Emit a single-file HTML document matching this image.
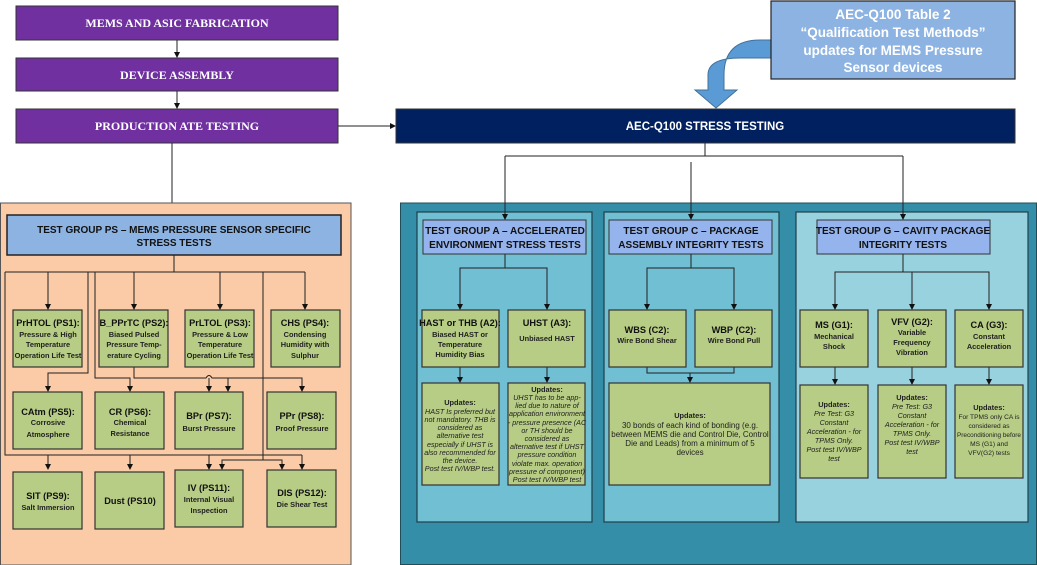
<!DOCTYPE html>
<html><head><meta charset="utf-8"><style>
html,body{margin:0;padding:0;background:#fff;}
svg{display:block;}
text{font-family:"Liberation Sans",sans-serif;}
.b{font-weight:bold;}
.s{font-family:"Liberation Serif",serif;font-weight:bold;fill:#fff;font-size:12px;}
.h{font-weight:bold;font-size:10px;fill:#111;}
.t{font-weight:bold;font-size:9.2px;fill:#111;}
.d{font-weight:bold;font-size:7.4px;fill:#222;}
.u{font-style:italic;font-size:7.2px;fill:#222;}
.box{fill:#b7cc84;stroke:#333;stroke-width:1.2;}
.ln{stroke:#222;stroke-width:1;fill:none;}
</style></head><body>
<svg width="1037" height="565" viewBox="0 0 1037 565" xmlns="http://www.w3.org/2000/svg">
<defs><marker id="a" markerWidth="6" markerHeight="6" refX="5" refY="3" orient="auto" markerUnits="userSpaceOnUse"><path d="M0,0 L6,3 L0,6z" fill="#111"/></marker></defs>

<rect x="16" y="6" width="322" height="34" fill="#7030a0" stroke="#333"/>
<text x="177" y="27" text-anchor="middle" class="s">MEMS AND ASIC FABRICATION</text>
<rect x="16" y="58" width="322" height="33" fill="#7030a0" stroke="#333"/>
<text x="177" y="79" text-anchor="middle" class="s">DEVICE ASSEMBLY</text>
<rect x="16" y="109" width="322" height="34" fill="#7030a0" stroke="#333"/>
<text x="177" y="130" text-anchor="middle" class="s">PRODUCTION ATE TESTING</text>
<line x1="177" y1="40" x2="177" y2="57" class="ln" marker-end="url(#a)"/>
<line x1="177" y1="91" x2="177" y2="108" class="ln" marker-end="url(#a)"/>
<line x1="338" y1="126" x2="395" y2="126" class="ln" marker-end="url(#a)"/>
<line x1="172" y1="143" x2="172" y2="215" class="ln"/>

<rect x="396" y="109" width="619" height="34" fill="#002060" stroke="#333"/>
<text x="705" y="130" text-anchor="middle" fill="#fff" class="b" font-size="11.5">AEC-Q100 STRESS TESTING</text>

<path d="M771,40 L760,40 Q724,40 724,75 L724,90 L737,90 L716,108 L695,90 L708,90 L708,75 Q708,58 740,58 L771,58 Z" fill="#5b9bd5" stroke="#41719c" stroke-width="1"/>
<rect x="771" y="1" width="244" height="78" fill="#8db3e2" stroke="#222" stroke-width="1.2"/>
<text text-anchor="middle" fill="#fff" class="b" font-size="13.5"><tspan x="893" y="19">AEC-Q100 Table 2</tspan><tspan x="893" y="37">“Qualification Test Methods”</tspan><tspan x="893" y="55">updates for MEMS Pressure</tspan><tspan x="893" y="72">Sensor devices</tspan></text>

<rect x="0.5" y="203" width="350.5" height="362" fill="#fbcba7" stroke="#555"/>
<rect x="7" y="215" width="334" height="40" fill="#8db3e2" stroke="#222" stroke-width="1.5"/>
<text text-anchor="middle" class="h" font-size="10.5"><tspan x="174" y="233">TEST GROUP PS – MEMS PRESSURE SENSOR SPECIFIC</tspan><tspan x="174" y="246">STRESS TESTS</tspan></text>

<g class="ln">
<path d="M174,255 V272 M5,272 H305 M5,272 V455 H302"/>
<line x1="48" y1="272" x2="48" y2="309" marker-end="url(#a)"/>
<line x1="134" y1="272" x2="134" y2="309" marker-end="url(#a)"/>
<line x1="220" y1="272" x2="220" y2="309" marker-end="url(#a)"/>
<line x1="305" y1="272" x2="305" y2="309" marker-end="url(#a)"/>
<path d="M88,272 V373 H48 V391" marker-end="url(#a)"/>
<path d="M95,272 V378 H130 V391" marker-end="url(#a)"/>
<path d="M134,367 V378 H206 Q209,373 212,378 H302 V391" marker-end="url(#a)"/>
<line x1="209" y1="378" x2="209" y2="391" marker-end="url(#a)"/>
<line x1="228" y1="378" x2="228" y2="391" marker-end="url(#a)"/>
<path d="M263,272 V460 H222 V469" marker-end="url(#a)"/>
<path d="M263,460 H282 V469" marker-end="url(#a)"/>
<line x1="48" y1="455" x2="48" y2="469" marker-end="url(#a)"/>
<line x1="130" y1="455" x2="130" y2="469" marker-end="url(#a)"/>
<line x1="209" y1="455" x2="209" y2="469" marker-end="url(#a)"/>
<line x1="302" y1="455" x2="302" y2="469" marker-end="url(#a)"/>
</g>

<rect class="box" x="13" y="310" width="69" height="57"/>
<text text-anchor="middle"><tspan x="48" y="326" class="t">PrHTOL (PS1):</tspan><tspan x="48" y="337" class="d">Pressure &amp; High</tspan><tspan x="48" y="347" class="d">Temperature</tspan><tspan x="48" y="358" class="d" font-size="6.8">Operation Life Test</tspan></text>
<rect class="box" x="99" y="310" width="69" height="57"/>
<text text-anchor="middle"><tspan x="134" y="326" class="t" font-size="8.6">B_PPrTC (PS2):</tspan><tspan x="134" y="337" class="d">Biased Pulsed</tspan><tspan x="134" y="347" class="d">Pressure Temp-</tspan><tspan x="134" y="358" class="d">erature Cycling</tspan></text>
<rect class="box" x="185" y="310" width="69" height="57"/>
<text text-anchor="middle"><tspan x="220" y="326" class="t">PrLTOL (PS3):</tspan><tspan x="220" y="337" class="d">Pressure &amp; Low</tspan><tspan x="220" y="347" class="d">Temperature</tspan><tspan x="220" y="358" class="d" font-size="6.8">Operation Life Test</tspan></text>
<rect class="box" x="271" y="310" width="69" height="57"/>
<text text-anchor="middle"><tspan x="305" y="326" class="t">CHS (PS4):</tspan><tspan x="305" y="337" class="d">Condensing</tspan><tspan x="305" y="347" class="d">Humidity with</tspan><tspan x="305" y="358" class="d">Sulphur</tspan></text>

<rect class="box" x="13" y="392" width="69" height="57"/>
<text text-anchor="middle"><tspan x="48" y="415" class="t">CAtm (PS5):</tspan><tspan x="48" y="425" class="d">Corrosive</tspan><tspan x="48" y="437" class="d">Atmosphere</tspan></text>
<rect class="box" x="95" y="392" width="69" height="57"/>
<text text-anchor="middle"><tspan x="130" y="415" class="t">CR (PS6):</tspan><tspan x="130" y="425" class="d">Chemical</tspan><tspan x="130" y="436" class="d">Resistance</tspan></text>
<rect class="box" x="175" y="392" width="68" height="57"/>
<text text-anchor="middle"><tspan x="209" y="419" class="t">BPr (PS7):</tspan><tspan x="209" y="431" class="d">Burst Pressure</tspan></text>
<rect class="box" x="267" y="392" width="69" height="57"/>
<text text-anchor="middle"><tspan x="302" y="419" class="t">PPr (PS8):</tspan><tspan x="302" y="431" class="d">Proof Pressure</tspan></text>

<rect class="box" x="13" y="472" width="69" height="57"/>
<text text-anchor="middle"><tspan x="48" y="499" class="t">SIT (PS9):</tspan><tspan x="48" y="510" class="d">Salt Immersion</tspan></text>
<rect class="box" x="95" y="472" width="69" height="57"/>
<text text-anchor="middle"><tspan x="130" y="504" class="t">Dust (PS10)</tspan></text>
<rect class="box" x="175" y="470" width="68" height="57"/>
<text text-anchor="middle"><tspan x="209" y="491" class="t">IV (PS11):</tspan><tspan x="209" y="502" class="d">Internal Visual</tspan><tspan x="209" y="513" class="d">Inspection</tspan></text>
<rect class="box" x="267" y="470" width="69" height="57"/>
<text text-anchor="middle"><tspan x="302" y="496" class="t">DIS (PS12):</tspan><tspan x="302" y="507" class="d">Die Shear Test</tspan></text>

<rect x="400.5" y="203" width="636" height="361.5" fill="#348ea8" stroke="#1f4d5a"/>
<g class="ln">
<path d="M705,143 V156 M505,156 H903"/>
<line x1="505" y1="156" x2="505" y2="219" marker-end="url(#a)"/>
<line x1="691" y1="162" x2="691" y2="219" marker-end="url(#a)"/>
<line x1="903" y1="156" x2="903" y2="219" marker-end="url(#a)"/>
</g>
<rect x="417" y="212" width="175" height="310" fill="#70bfd2" stroke="#1f3f4a" stroke-width="1.2"/>
<rect x="604" y="212" width="175" height="310" fill="#70bfd2" stroke="#1f3f4a" stroke-width="1.2"/>
<rect x="796" y="212" width="232" height="310" fill="#99d2df" stroke="#1f3f4a" stroke-width="1.2"/>
<line x1="691" y1="203" x2="691" y2="219" class="ln" marker-end="url(#a)"/>
<line x1="505" y1="203" x2="505" y2="219" class="ln" marker-end="url(#a)"/>
<line x1="903" y1="203" x2="903" y2="219" class="ln" marker-end="url(#a)"/>

<rect x="423" y="220" width="163" height="34" fill="#95b3ec" stroke="#333"/>
<text text-anchor="middle" class="h"><tspan x="505" y="234">TEST GROUP A – ACCELERATED</tspan><tspan x="505" y="248">ENVIRONMENT STRESS TESTS</tspan></text>
<g class="ln"><path d="M505,254 V268 H460 V309 M505,268 H547 V309"/>
<line x1="460" y1="300" x2="460" y2="309" marker-end="url(#a)"/><line x1="547" y1="300" x2="547" y2="309" marker-end="url(#a)"/>
<line x1="460" y1="367" x2="460" y2="382" marker-end="url(#a)"/><line x1="547" y1="367" x2="547" y2="382" marker-end="url(#a)"/></g>
<rect class="box" x="422" y="310" width="77" height="57"/>
<text text-anchor="middle"><tspan x="460" y="326" class="t" font-size="8.8">HAST or THB (A2):</tspan><tspan x="460" y="337" class="d">Biased HAST or</tspan><tspan x="460" y="347" class="d">Temperature</tspan><tspan x="460" y="357" class="d">Humidity Bias</tspan></text>
<rect class="box" x="508" y="310" width="77" height="57"/>
<text text-anchor="middle"><tspan x="547" y="326" class="t">UHST (A3):</tspan><tspan x="547" y="341" class="d">Unbiased HAST</tspan></text>
<rect class="box" x="422" y="383" width="77" height="102"/>
<text text-anchor="middle"><tspan x="460" y="405" class="d" font-size="9">Updates:</tspan><tspan x="460" y="414" class="u">HAST Is preferred but</tspan><tspan x="460" y="422" class="u">not mandatory. THB is</tspan><tspan x="460" y="430" class="u">considered as</tspan><tspan x="460" y="438" class="u">alternative test</tspan><tspan x="460" y="447" class="u">especially if UHST is</tspan><tspan x="460" y="455" class="u">also recommended for</tspan><tspan x="460" y="463" class="u">the device.</tspan><tspan x="460" y="471" class="u">Post test IV/WBP test.</tspan></text>
<rect class="box" x="508" y="383" width="77" height="102"/>
<text text-anchor="middle"><tspan x="547" y="392" class="d" font-size="9">Updates:</tspan><tspan x="547" y="400" class="u">UHST has to be app-</tspan><tspan x="547" y="408" class="u">lied due to nature of</tspan><tspan x="547" y="416" class="u" font-size="6.6">application environment</tspan><tspan x="547" y="425" class="u" font-size="6.6">- pressure presence (AC</tspan><tspan x="547" y="433" class="u">or TH should be</tspan><tspan x="547" y="441" class="u">considered as</tspan><tspan x="547" y="449" class="u" font-size="6.6">alternative test if UHST</tspan><tspan x="547" y="457" class="u">pressure condition</tspan><tspan x="547" y="466" class="u">violate max. operation</tspan><tspan x="547" y="474" class="u" font-size="6.6">pressure of component)</tspan><tspan x="547" y="482" class="u">Post test IV/WBP test</tspan></text>

<rect x="609" y="220" width="163" height="34" fill="#95b3ec" stroke="#333"/>
<text text-anchor="middle" class="h"><tspan x="691" y="234">TEST GROUP C – PACKAGE</tspan><tspan x="691" y="248">ASSEMBLY INTEGRITY TESTS</tspan></text>
<g class="ln"><path d="M691,254 V268 H647 V309 M691,268 H734 V309 M647,367 V373 H734 V367"/>
<line x1="647" y1="300" x2="647" y2="309" marker-end="url(#a)"/><line x1="734" y1="300" x2="734" y2="309" marker-end="url(#a)"/>
<line x1="690" y1="373" x2="690" y2="382" marker-end="url(#a)"/></g>
<rect class="box" x="609" y="310" width="77" height="57"/>
<text text-anchor="middle"><tspan x="647" y="333" class="t">WBS  (C2):</tspan><tspan x="647" y="343" class="d">Wire Bond Shear</tspan></text>
<rect class="box" x="695" y="310" width="77" height="57"/>
<text text-anchor="middle"><tspan x="734" y="333" class="t">WBP (C2):</tspan><tspan x="734" y="343" class="d">Wire Bond Pull</tspan></text>
<rect class="box" x="609" y="383" width="161" height="102"/>
<text text-anchor="middle"><tspan x="690" y="418" class="d" font-size="10">Updates:</tspan><tspan x="690" y="428" font-size="8" fill="#222">30 bonds of each kind of bonding  (e.g.</tspan><tspan x="690" y="437" font-size="8" fill="#222">between MEMS die and Control Die, Control</tspan><tspan x="690" y="446" font-size="8" fill="#222">Die and Leads)  from a minimum of 5</tspan><tspan x="690" y="455" font-size="8" fill="#222">devices</tspan></text>

<rect x="817" y="220" width="173" height="34" fill="#95b3ec" stroke="#333"/>
<text text-anchor="middle" class="h"><tspan x="903" y="234">TEST GROUP G – CAVITY PACKAGE</tspan><tspan x="903" y="248">INTEGRITY TESTS</tspan></text>
<g class="ln"><path d="M903,254 V272 H835 V309 M903,272 H989 V309 M912,272 V309"/>
<line x1="835" y1="300" x2="835" y2="309" marker-end="url(#a)"/><line x1="912" y1="300" x2="912" y2="309" marker-end="url(#a)"/><line x1="989" y1="300" x2="989" y2="309" marker-end="url(#a)"/>
<line x1="835" y1="367" x2="835" y2="384" marker-end="url(#a)"/><line x1="912" y1="367" x2="912" y2="384" marker-end="url(#a)"/><line x1="989" y1="367" x2="989" y2="384" marker-end="url(#a)"/></g>
<rect class="box" x="800" y="310" width="68" height="57"/>
<text text-anchor="middle"><tspan x="834" y="328" class="t">MS (G1):</tspan><tspan x="834" y="339" class="d">Mechanical</tspan><tspan x="834" y="349" class="d">Shock</tspan></text>
<rect class="box" x="878" y="310" width="68" height="57"/>
<text text-anchor="middle"><tspan x="912" y="325" class="t">VFV (G2):</tspan><tspan x="912" y="335" class="d">Variable</tspan><tspan x="912" y="345" class="d">Frequency</tspan><tspan x="912" y="355" class="d">Vibration</tspan></text>
<rect class="box" x="955" y="310" width="68" height="57"/>
<text text-anchor="middle"><tspan x="989" y="328" class="t">CA (G3):</tspan><tspan x="989" y="339" class="d">Constant</tspan><tspan x="989" y="349" class="d">Acceleration</tspan></text>
<rect class="box" x="800" y="385" width="68" height="93"/>
<text text-anchor="middle"><tspan x="834" y="407" class="d" font-size="9.5">Updates:</tspan><tspan x="834" y="416" class="u">Pre Test: G3</tspan><tspan x="834" y="425" class="u">Constant</tspan><tspan x="834" y="434" class="u" font-size="6.6">Acceleration  - for</tspan><tspan x="834" y="443" class="u">TPMS Only.</tspan><tspan x="834" y="452" class="u">Post test IV/WBP</tspan><tspan x="834" y="461" class="u">test</tspan></text>
<rect class="box" x="878" y="385" width="68" height="93"/>
<text text-anchor="middle"><tspan x="912" y="400" class="d" font-size="9.5">Updates:</tspan><tspan x="912" y="409" class="u">Pre Test: G3</tspan><tspan x="912" y="418" class="u">Constant</tspan><tspan x="912" y="427" class="u" font-size="6.6">Acceleration  - for</tspan><tspan x="912" y="436" class="u">TPMS Only.</tspan><tspan x="912" y="445" class="u">Post test IV/WBP</tspan><tspan x="912" y="454" class="u">test</tspan></text>
<rect class="box" x="955" y="385" width="68" height="93"/>
<text text-anchor="middle"><tspan x="989" y="410" class="d" font-size="9.5">Updates:</tspan><tspan x="989" y="419" font-size="6.6" fill="#222">For TPMS only CA is</tspan><tspan x="989" y="428" font-size="6.6" fill="#222">considered as</tspan><tspan x="989" y="437" font-size="6.4" fill="#222">Preconditioning before</tspan><tspan x="989" y="446" font-size="6.6" fill="#222">MS (G1) and</tspan><tspan x="989" y="455" font-size="6.6" fill="#222">VFV(G2) tests</tspan></text>
</svg>
</body></html>
